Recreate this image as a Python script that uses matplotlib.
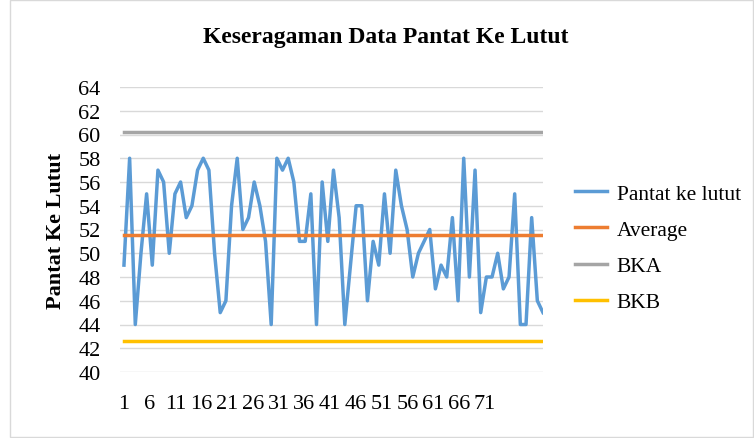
import matplotlib
matplotlib.use("Agg")
import matplotlib.pyplot as plt
from matplotlib.patches import Rectangle

pantat = [49, 58, 44, 50, 55, 49, 57, 56, 50, 55,
          56, 53, 54, 57, 58, 57, 50, 45, 46, 54,
          58, 52, 53, 56, 54, 51, 44, 58, 57, 58,
          56, 51, 51, 55, 44, 56, 51, 57, 53, 44,
          49, 54, 54, 46, 51, 49, 55, 50, 57, 54,
          52, 48, 50, 51, 52, 47, 49, 48, 53, 46,
          58, 48, 57, 45, 48, 48, 50, 47, 48, 55,
          44, 44, 53, 46, 45]
average = 51.5
bka = 60.2
bkb = 42.6
xlabels = list(range(1, 72, 5))
yticks = list(range(40, 65, 2))

plt.rcParams['font.family'] = ['Liberation Serif', 'DejaVu Serif']

fig = plt.figure(figsize=(7.54, 4.39), dpi=100)
ax = fig.add_axes([120/754, 1-373/439, (543-120)/754, (373-88)/439])

n = len(pantat)
x = list(range(1, n+1))
ax.plot(x, pantat, color='#5B9BD5', lw=2.5, label='Pantat ke lutut', zorder=3)
ax.plot(x, [average]*n, color='#ED7D31', lw=2.5, label='Average', zorder=3)
ax.plot(x, [bka]*n, color='#A5A5A5', lw=2.5, label='BKA', zorder=3)
ax.plot(x, [bkb]*n, color='#FFC000', lw=2.5, label='BKB', zorder=3)

ax.set_xlim(0.3, n)
ax.set_ylim(40, 64)
ax.set_yticks(yticks)
# the category labels in the original sit closer together than the points
squeeze = 0.91
ax.set_xticks([1 + (v - 1) * squeeze for v in xlabels])
ax.set_xticklabels([str(t) for t in xlabels])
ax.grid(axis='y', color='#D9D9D9', lw=1)
ax.set_axisbelow(True)
for s in ax.spines.values():
    s.set_visible(False)
ax.tick_params(axis='both', length=0, labelsize=16, colors='#000000')
ax.tick_params(axis='y', pad=14)
ax.tick_params(axis='x', pad=16)

ax.set_ylabel('Pantat Ke Lutut', fontsize=16, fontweight='bold', labelpad=9)
fig.text(386/754, 1-38/439, 'Keseragaman Data Pantat Ke Lutut', fontsize=17,
         fontweight='bold', ha='center', va='center')

ax.legend(loc='center left', bbox_to_anchor=(566/754, 1-249/439),
          bbox_transform=fig.transFigure, frameon=False, fontsize=15.5,
          handlelength=1.5, labelspacing=0.75, borderaxespad=0, handletextpad=0.45)

fig.patches.append(Rectangle((10/754, 0.002), 743/754, 0.995, transform=fig.transFigure,
                             fill=False, edgecolor='#D9D9D9', lw=1))

fig.savefig('out.png', dpi=100)
